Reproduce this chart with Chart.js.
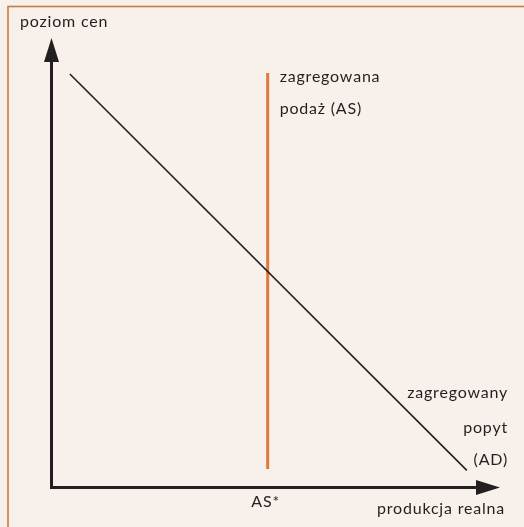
<!DOCTYPE html>
<html>
<head>
<meta charset="utf-8">
<script src="https://cdn.jsdelivr.net/npm/chart.js@4"></script>
<style>
  html, body { margin: 0; padding: 0; background: #f8f1eb; }
  #wrap { width: 524px; height: 527px; }
</style>
</head>
<body>
<div id="wrap"><canvas id="chart" width="524" height="527"></canvas></div>
<script>
// curve endpoints in data units (0..100 on both axes)
const adX = [4.1, 92.6];
const adY = [92.0, 3.8];
const asX = [48.2, 48.2];
const asY = [92.2, 4.1];
const asTick = 'AS*';

const axisTitles = { x: 'produkcja realna', y: 'poziom cen' };
const asLabel = ['zagregowana', 'podaż (AS)'];
const adLabel = ['zagregowany', 'popyt', '(AD)'];

const ink = '#231f20';
const orange = '#e07a3c';
const fontFamily = 'Lato, "Open Sans", sans-serif';

function points(xs, ys) {
    return xs.map((x, i) => ({ x: x, y: ys[i] }));
}

const decorations = {
    id: 'decorations',
    beforeDraw(chart) {
        const ctx = chart.ctx;
        ctx.save();
        ctx.fillStyle = '#f8f1eb';
        ctx.fillRect(0, 0, chart.width, chart.height);
        ctx.strokeStyle = '#c97b40';
        ctx.lineWidth = 1.6;
        ctx.strokeRect(8, 6.5, 700, 700);
        ctx.restore();
    },
    afterDraw(chart) {
        const ctx = chart.ctx;
        const a = chart.chartArea;
        const xs = chart.scales.x;
        ctx.save();

        // axes with arrow heads
        ctx.strokeStyle = ink;
        ctx.fillStyle = ink;
        ctx.lineWidth = 3;
        ctx.beginPath();
        ctx.moveTo(a.left, a.bottom);
        ctx.lineTo(a.left, a.top + 20);
        ctx.moveTo(a.left - 1.5, a.bottom);
        ctx.lineTo(a.right - 20, a.bottom);
        ctx.stroke();

        ctx.beginPath();
        ctx.moveTo(a.left, a.top);
        ctx.lineTo(a.left - 7.5, a.top + 24);
        ctx.lineTo(a.left + 7.5, a.top + 24);
        ctx.closePath();
        ctx.fill();

        ctx.beginPath();
        ctx.moveTo(a.right, a.bottom);
        ctx.lineTo(a.right - 24, a.bottom - 7.5);
        ctx.lineTo(a.right - 24, a.bottom + 7.5);
        ctx.closePath();
        ctx.fill();

        // texts (right aligned ones get +1 for the trailing letter spacing)
        ctx.fillStyle = ink;
        ctx.font = '16px ' + fontFamily;
        ctx.letterSpacing = '0.8px';
        ctx.textBaseline = 'alphabetic';

        ctx.textAlign = 'left';
        ctx.fillText(axisTitles.y, 20, 27);
        const asPx = xs.getPixelForValue(asX[0]);
        ctx.fillText(asLabel[0], asPx + 12, 82);
        ctx.fillText(asLabel[1], asPx + 12, 114);

        ctx.textAlign = 'center';
        ctx.fillText(asTick, asPx - 2, 507);

        ctx.textAlign = 'right';
        ctx.fillText(axisTitles.x, 505, 514);
        ctx.fillText(adLabel[0], 508, 398);
        ctx.fillText(adLabel[1], 508, 433);
        ctx.fillText(adLabel[2], 508, 465);

        ctx.restore();
    }
};

new Chart(document.getElementById('chart'), {
    type: 'scatter',
    data: {
        datasets: [
            {
                label: 'AD',
                data: points(adX, adY),
                showLine: true,
                borderColor: ink,
                borderWidth: 1.6,
                pointRadius: 0
            },
            {
                label: 'AS',
                data: points(asX, asY),
                showLine: true,
                borderColor: orange,
                borderWidth: 3,
                pointRadius: 0
            }
        ]
    },
    options: {
        responsive: false,
        animation: false,
        layout: { padding: { left: 51.5, right: 24, top: 38, bottom: 39.5 } },
        plugins: { legend: { display: false }, tooltip: { enabled: false } },
        scales: {
            x: { type: 'linear', min: 0, max: 100, display: false },
            y: { type: 'linear', min: 0, max: 100, display: false }
        }
    },
    plugins: [decorations]
});
</script>
</body>
</html>
